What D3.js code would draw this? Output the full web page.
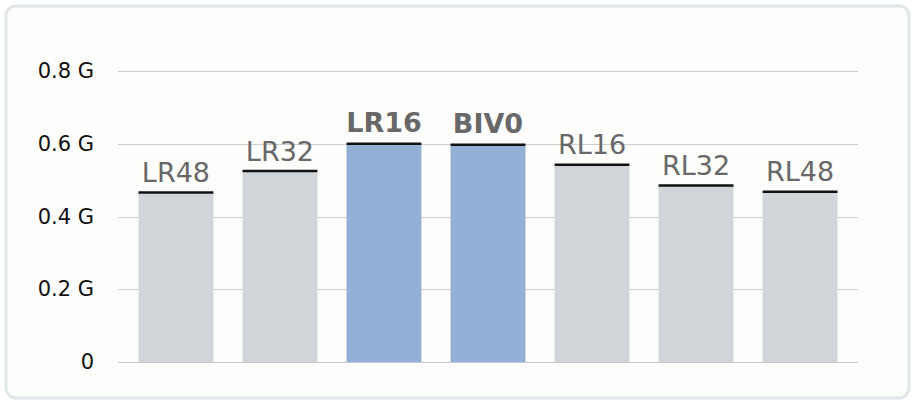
<!DOCTYPE html>
<html><head><meta charset="utf-8">
<script src="https://cdn.jsdelivr.net/npm/d3@7"></script>
<style>body{margin:0;background:#fff;}svg{display:block;font-family:"DejaVu Sans",sans-serif;}</style>
</head><body><svg id="c" width="914" height="401"></svg>
<script>
const categories = ["LR48","LR32","LR16","BIV0","RL16","RL32","RL48"];
const values = [0.466e9, 0.525e9, 0.600e9, 0.597e9, 0.542e9, 0.485e9, 0.468e9];
const highlighted = ["LR16","BIV0"];
const tickValues = [0, 0.2e9, 0.4e9, 0.6e9, 0.8e9];
const tickLabels = ["0","0.2 G","0.4 G","0.6 G","0.8 G"];

const svg = d3.select("#c");
svg.append("rect").attr("x",6).attr("y",6).attr("width",903).attr("height",392)
  .attr("rx",10).attr("fill","#fdfdfb").attr("stroke","#e1e7ea").attr("stroke-width",3);

const x = d3.scaleBand().domain(categories).range([118,858]).paddingInner(0.28).paddingOuter(0.197);
const y = d3.scaleLinear().domain([0,0.8e9]).range([362,71]);

const g = svg.append("g");
g.selectAll("line.grid").data(tickValues).join("line").attr("class","grid")
  .attr("x1",118).attr("x2",858).attr("y1",d=>Math.round(y(d))+0.5).attr("y2",d=>Math.round(y(d))+0.5)
  .attr("stroke",d=>d===0?"#c4c8cb":"#cfcfcf").attr("stroke-width",1);

const yAxis = d3.axisLeft(y).tickValues(tickValues).tickFormat((d,i)=>tickLabels[i]).tickSize(0).tickPadding(0);
const ya = svg.append("g").attr("transform","translate(94,0)").call(yAxis);
ya.select(".domain").remove();
ya.selectAll("text").attr("font-size",21).attr("fill","#111").attr("font-family","DejaVu Sans");

const bars = svg.append("g").selectAll("g").data(categories).join("g");
bars.append("rect").attr("x",d=>x(d)).attr("width",x.bandwidth())
  .attr("y",(d,i)=>y(values[i])).attr("height",(d,i)=>y(0)-y(values[i]))
  .attr("fill",d=>highlighted.includes(d)?"#93afd5":"#d0d5d9");
bars.append("line").attr("x1",d=>x(d)).attr("x2",d=>x(d)+x.bandwidth())
  .attr("y1",(d,i)=>y(values[i])).attr("y2",(d,i)=>y(values[i]))
  .attr("stroke","#111").attr("stroke-width",2.5);
bars.append("text").attr("x",d=>x(d)+x.bandwidth()/2)
  .attr("y",(d,i)=>y(values[i])-(highlighted.includes(d)?12:10.5))
  .attr("text-anchor","middle").attr("font-size",27).attr("fill","#686868")
  .attr("font-weight",d=>highlighted.includes(d)?"bold":"normal").text(d=>d);
</script></body></html>
